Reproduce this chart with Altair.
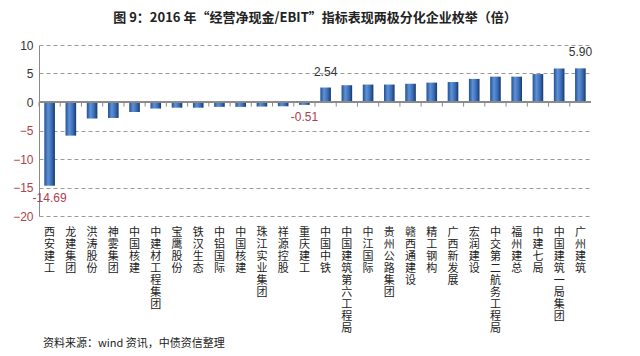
import altair as alt
import pandas as pd

names = ["西安建工", "龙建集团", "洪涛股份", "神雾集团", "中国核建", "中建材工程集团",
         "宝鹰股份", "铁汉生态", "中铝国际", "中国核建", "珠江实业集团", "祥源控股",
         "重庆建工", "中国中铁", "中国建筑第六工程局", "中江国际", "贵州公路集团",
         "赣西通建设", "精工钢构", "广西新发展", "宏润建设", "中交第二航务工程局",
         "福州建总", "中建七局", "中国建筑一局集团", "广州建筑"]
values = [-14.69, -5.9, -2.9, -2.8, -1.75, -1.15, -1.0, -1.0, -0.85, -0.85, -0.8, -0.75,
          -0.51, 2.54, 2.94, 3.06, 3.06, 3.2, 3.4, 3.5, 4.05, 4.45, 4.45, 4.9, 5.88, 5.90]
shown = ["-14.69", "", "", "", "", "", "", "", "", "", "", "", "-0.51",
         "2.54", "", "", "", "", "", "", "", "", "", "", "", "5.90"]
y_ticks = [-20, -15, -10, -5, 0, 5, 10]

title_text = "图 9：2016 年“经营净现金/EBIT”指标表现两极分化企业枚举（倍）"
source_text = "资料来源：wind 资讯，中债资信整理"

RED = "#b0404a"
df = pd.DataFrame({"idx": list(range(len(names))), "name": names, "value": values, "lab": shown})

arr = "[" + ",".join("'" + n + "'" for n in names) + "]"

x_axis = alt.Axis(title=None, ticks=False, domain=False, labelAngle=0,
                  labelExpr=f"split({arr}[datum.value], '')",
                  labelFontSize=11, labelLineHeight=12, labelColor="#222",
                  labelBaseline="top", labelPadding=10,
                  labelFont="Noto Sans CJK SC")
x_scale = alt.Scale(paddingInner=0, paddingOuter=0)
y_scale = alt.Scale(domain=[-20, 10], nice=False)
y_axis = alt.Axis(title=None, values=y_ticks, ticks=False, domainColor="#8a8a8a",
                  grid=True, gridColor="#9a9a9a", gridDash=[4, 3], gridWidth=1,
                  labelFontSize=12, labelOverlap=False,
                  labelPadding=6, labelFont="Liberation Sans",
                  labelColor=alt.ExprRef(expr=f"datum.value < 0 ? '{RED}' : '#333'"))

grad = alt.Gradient(gradient="linear", x1=0, x2=1, y1=0, y2=0,
                    stops=[alt.GradientStop(color="#24508f", offset=0),
                           alt.GradientStop(color="#5d91d8", offset=0.35),
                           alt.GradientStop(color="#3a6cb4", offset=0.7),
                           alt.GradientStop(color="#17386c", offset=1)])

base = alt.Chart(df)

bars = base.mark_bar(width={"band": 0.5}, color=grad).encode(
    x=alt.X("idx:O", scale=x_scale, axis=x_axis),
    y=alt.Y("value:Q", scale=y_scale, axis=y_axis),
    y2=alt.datum(0),
)

zero = base.mark_rule(color="#8a8a8a", strokeWidth=1).encode(
    y=alt.YDatum(0, scale=y_scale, axis=y_axis))

ticks = base.mark_rule(color="#8a8a8a", strokeWidth=1).encode(
    x=alt.X("idx:O", bandPosition=0, scale=x_scale, axis=x_axis),
    y=alt.YDatum(0, scale=y_scale, axis=y_axis), y2=alt.datum(-0.8))

neg_labels = base.transform_filter("datum.lab != '' && datum.value < 0").mark_text(
    baseline="top", dy=7, fontSize=12, color=RED, font="Liberation Sans").encode(
    x=alt.X("idx:O", bandPosition=0.5, scale=x_scale, axis=x_axis),
    y=alt.Y("value:Q", scale=y_scale, axis=y_axis), text="lab:N")

pos_labels = base.transform_filter("datum.lab != '' && datum.value > 0").mark_text(
    baseline="bottom", dy=-9, fontSize=12, color="#333", font="Liberation Sans").encode(
    x=alt.X("idx:O", bandPosition=0.5, scale=x_scale, axis=x_axis),
    y=alt.Y("value:Q", scale=y_scale, axis=y_axis), text="lab:N")

source = alt.Chart(pd.DataFrame({"t": [source_text]})).mark_text(
    align="left", baseline="middle", fontSize=11, color="#222",
    font="Noto Sans CJK SC").encode(x=alt.value(4), y=alt.value(299), text="t:N")

chart = alt.layer(bars, zero, ticks, neg_labels, pos_labels, source).properties(
    width=552, height=171,
    title=alt.TitleParams(title_text, anchor="middle", fontSize=13, fontWeight="bold",
                          font="Noto Sans CJK SC", color="#222", offset=14),
    autosize=alt.AutoSizeParams(type="none"),
    padding={"left": 31, "top": 37, "right": 20, "bottom": 138},
).configure_view(stroke=None)

chart.save("out.html", embed_options={"renderer": "svg", "actions": False})
